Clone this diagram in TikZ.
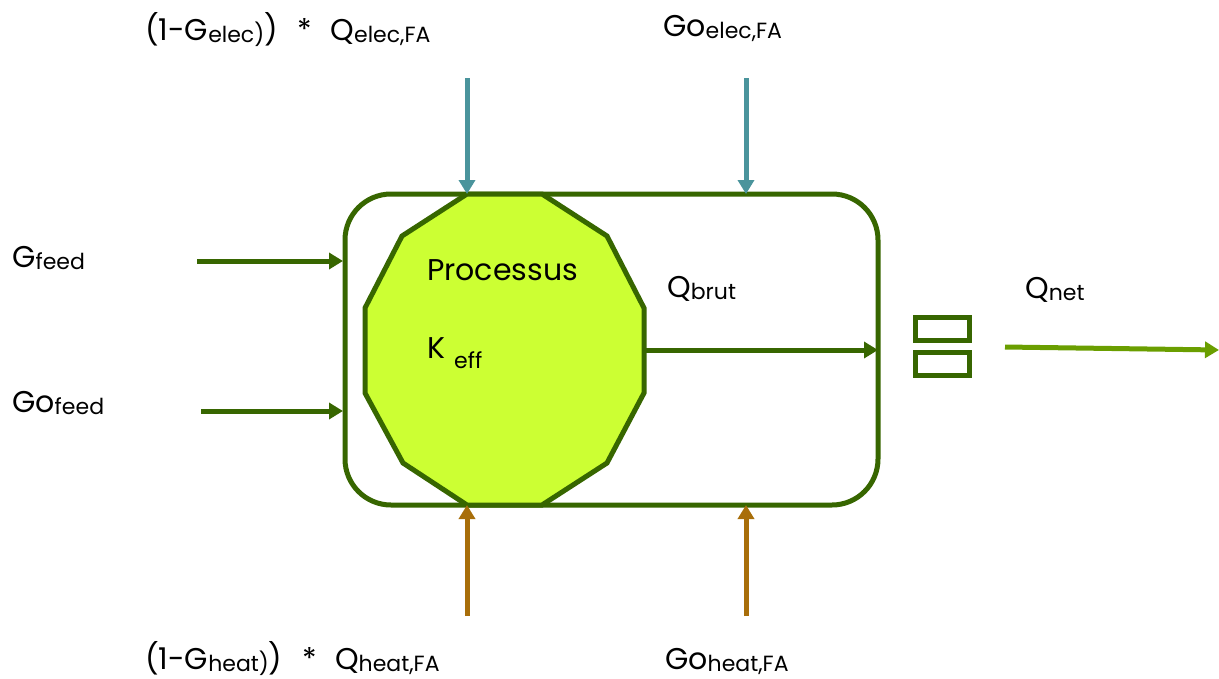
\documentclass[tikz,border=0pt]{standalone}
\usepackage{fontspec}
\setmainfont{Poppins}
\usetikzlibrary{arrows.meta}
\definecolor{dgreen}{HTML}{376600}
\definecolor{lgreen}{HTML}{6A9E00}
\definecolor{polyfill}{HTML}{CCFF33}
\definecolor{teal}{HTML}{4A949C}
\definecolor{brown}{HTML}{A86E0A}
\newcommand{\mysub}[1]{\raisebox{-2pt}{\fontsize{22}{22}\selectfont #1}}
\begin{document}
\begin{tikzpicture}[x=1pt,y=-1pt,
  lab/.style={anchor=base west,inner sep=0pt,font=\fontsize{30}{32}\selectfont},
  flow/.style={line width=5pt,-{Triangle[width=16pt,length=14pt]}},
  eqbox/.style={draw=dgreen,line width=5pt,minimum width=54pt,minimum height=23pt,inner sep=0pt}]
\useasboundingbox (0,0) rectangle (1219,678);
% outer box
\node[draw=dgreen,line width=5pt,rounded corners=46pt,minimum width=533pt,minimum height=311pt,inner sep=0pt] (box) at (611.5,349.5) {};
% process polygon
\draw[dgreen,line width=5pt,fill=polyfill,line join=miter]
  (467,194) coordinate (p1) -- (542,194) -- (607,236) -- (644,308) -- (644,393) coordinate (p5)
  -- (607,463) -- (542,505) -- (467,505) coordinate (p8) -- (403,463) -- (365,393) -- (365,308) -- (402,236) -- cycle;
\coordinate (pr) at (644,350);
\node[lab] (proc) at (427,280) {Processus};
\node[lab] (keff) at (427,358) {K\hspace{9pt}\raisebox{-10pt}{\fontsize{22}{22}\selectfont eff}};
% coordinates
\coordinate (te1) at (467,78);  \coordinate (tt1) at (467,194);
\coordinate (te2) at (746,78);  \coordinate (tt2) at (746,194);
\coordinate (be1) at (467,616); \coordinate (bt1) at (467,505);
\coordinate (be2) at (746,616); \coordinate (bt2) at (746,505);
\coordinate (le1) at (197,261); \coordinate (lt1) at (343,261);
\coordinate (le2) at (201,411); \coordinate (lt2) at (343,411);
\coordinate (qt) at (878,350);
\coordinate (ns) at (1005,347); \coordinate (nt) at (1219,350);
% arrows
\draw[flow,teal] (te1) -- (tt1);
\draw[flow,teal] (te2) -- (tt2);
\draw[flow,brown] (be1) -- (bt1);
\draw[flow,brown] (be2) -- (bt2);
\draw[flow,dgreen] (le1) -- (lt1);
\draw[flow,dgreen] (le2) -- (lt2);
\draw[flow,dgreen] (pr) -- (qt);
\draw[flow,lgreen] (ns) -- (nt);
% equals boxes
\node[eqbox] (eq1) at (942.5,329) {};
\node[eqbox] (eq2) at (942.5,364) {};
% labels
\node[lab] (l1) at (145,40) {(1-G\mysub{elec)})\hspace{20pt}*\hspace{18pt}Q\mysub{elec,FA}};
\node[lab] (l2) at (663,36) {Go\mysub{elec,FA}};
\node[lab] (l3) at (145,669) {(1-G\mysub{heat)})\hspace{20pt}*\hspace{18pt}Q\mysub{heat,FA}};
\node[lab] (l4) at (665,669) {Go\mysub{heat,FA}};
\node[lab] (gf) at (12,267) {G\mysub{feed}};
\node[lab] (gof) at (12,412) {Go\mysub{feed}};
\node[lab] (qb) at (667,297) {Q\mysub{brut}};
\node[lab] (qn) at (1025,298) {Q\mysub{net}};
\end{tikzpicture}
\end{document}
